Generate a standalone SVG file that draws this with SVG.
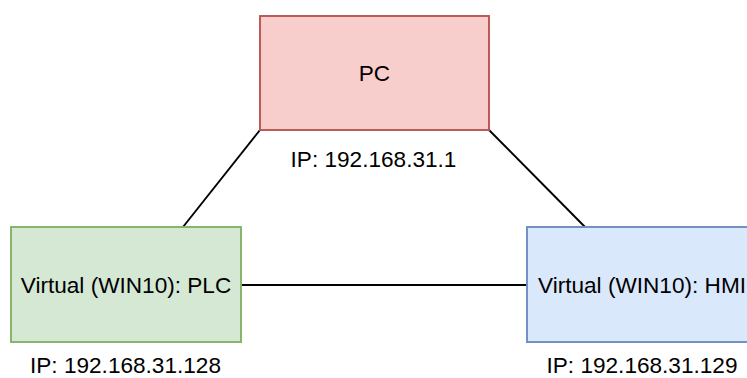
<svg xmlns="http://www.w3.org/2000/svg" width="747" height="378" viewBox="0 0 747 378">
  <style>
    .box { stroke-width: 1.9; }
    .pc { fill: #f8cecc; stroke: #b85450; }
    .plc { fill: #d5e8d4; stroke: #82b366; }
    .hmi { fill: #dae8fc; stroke: #6c8ebf; }
    .link { stroke: #000000; stroke-width: 1.9; fill: none; }
    text { font-family: "Liberation Sans", Arial, sans-serif; font-size: 22.6px; fill: #000000; text-anchor: middle; }
  </style>
  <rect width="747" height="378" fill="#ffffff"/>

  <!-- network links between the three hosts -->
  <g id="connectors">
    <line class="link" x1="260" y1="130" x2="183" y2="227"/>
    <line class="link" x1="489" y1="130" x2="585" y2="227"/>
    <line class="link" x1="241" y1="285" x2="527" y2="285"/>
  </g>

  <g id="pc">
    <rect class="box pc" x="260" y="16" width="229" height="114"/>
    <text x="374.5" y="81">PC</text>
    <text x="373.5" y="167">IP: 192.168.31.1</text>
  </g>

  <g id="plc">
    <rect class="box plc" x="11" y="227" width="230" height="115"/>
    <text x="126" y="292.5">Virtual (WIN10): PLC</text>
    <text x="125.5" y="373">IP: 192.168.31.128</text>
  </g>

  <g id="hmi">
    <rect class="box hmi" x="527" y="227" width="230" height="115"/>
    <text x="642" y="292.5">Virtual (WIN10): HMI</text>
    <text x="642" y="373">IP: 192.168.31.129</text>
  </g>
</svg>
